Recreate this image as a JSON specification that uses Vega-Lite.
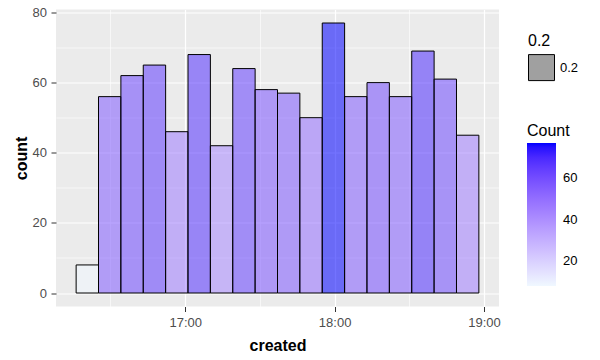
{
  "$schema": "https://vega.github.io/schema/vega-lite/v6.json",
  "width": 443,
  "height": 297,
  "autosize": {"type": "none"},
  "padding": {"left": 56, "top": 9.5, "right": 101, "bottom": 53.5},
  "background": "white",
  "config": {
    "font": "Liberation Sans",
    "view": {"fill": "#EBEBEB", "stroke": null},
    "axis": {
      "domain": false,
      "gridColor": "white",
      "tickColor": "#333333",
      "tickSize": 5,
      "tickWidth": 1,
      "labelFontSize": 13,
      "labelColor": "#4D4D4D",
      "labelPadding": 4.5,
      "titleFontSize": 16,
      "titleFontWeight": "bold",
      "titleColor": "black"
    },
    "legend": {
      "titleFontSize": 16,
      "titleFontWeight": "normal",
      "titleColor": "black",
      "labelFontSize": 13,
      "labelColor": "black",
      "padding": 0
    }
  },
  "data": {
    "values": [
      {"start": "2015-01-01T16:16:13Z", "end": "2015-01-01T16:25:12Z", "count": 8, "alpha": "0.2"},
      {"start": "2015-01-01T16:25:12Z", "end": "2015-01-01T16:34:11Z", "count": 56, "alpha": "0.2"},
      {"start": "2015-01-01T16:34:11Z", "end": "2015-01-01T16:43:10Z", "count": 62, "alpha": "0.2"},
      {"start": "2015-01-01T16:43:10Z", "end": "2015-01-01T16:52:09Z", "count": 65, "alpha": "0.2"},
      {"start": "2015-01-01T16:52:09Z", "end": "2015-01-01T17:01:08Z", "count": 46, "alpha": "0.2"},
      {"start": "2015-01-01T17:01:08Z", "end": "2015-01-01T17:10:07Z", "count": 68, "alpha": "0.2"},
      {"start": "2015-01-01T17:10:07Z", "end": "2015-01-01T17:19:06Z", "count": 42, "alpha": "0.2"},
      {"start": "2015-01-01T17:19:06Z", "end": "2015-01-01T17:28:05Z", "count": 64, "alpha": "0.2"},
      {"start": "2015-01-01T17:28:05Z", "end": "2015-01-01T17:37:04Z", "count": 58, "alpha": "0.2"},
      {"start": "2015-01-01T17:37:04Z", "end": "2015-01-01T17:46:03Z", "count": 57, "alpha": "0.2"},
      {"start": "2015-01-01T17:46:03Z", "end": "2015-01-01T17:55:02Z", "count": 50, "alpha": "0.2"},
      {"start": "2015-01-01T17:55:02Z", "end": "2015-01-01T18:04:01Z", "count": 77, "alpha": "0.2"},
      {"start": "2015-01-01T18:04:01Z", "end": "2015-01-01T18:13:00Z", "count": 56, "alpha": "0.2"},
      {"start": "2015-01-01T18:13:00Z", "end": "2015-01-01T18:21:59Z", "count": 60, "alpha": "0.2"},
      {"start": "2015-01-01T18:21:59Z", "end": "2015-01-01T18:30:58Z", "count": 56, "alpha": "0.2"},
      {"start": "2015-01-01T18:30:58Z", "end": "2015-01-01T18:39:57Z", "count": 69, "alpha": "0.2"},
      {"start": "2015-01-01T18:39:57Z", "end": "2015-01-01T18:48:56Z", "count": 61, "alpha": "0.2"},
      {"start": "2015-01-01T18:48:56Z", "end": "2015-01-01T18:57:55Z", "count": 45, "alpha": "0.2"}
    ]
  },
  "mark": {"type": "bar", "fillOpacity": 0.55, "stroke": "black", "strokeWidth": 1, "strokeOpacity": 1},
  "encoding": {
    "x": {
      "field": "start",
      "type": "temporal",
      "title": "created",
      "scale": {
        "type": "utc",
        "domain": [
          {"year": 2015, "month": 1, "date": 1, "hours": 16, "minutes": 8, "seconds": 8, "utc": true},
          {"year": 2015, "month": 1, "date": 1, "hours": 19, "minutes": 6, "seconds": 0, "utc": true}
        ],
        "nice": false
      },
      "axis": {
        "values": [
          {"year": 2015, "month": 1, "date": 1, "hours": 16, "minutes": 30, "utc": true},
          {"year": 2015, "month": 1, "date": 1, "hours": 17, "minutes": 0, "utc": true},
          {"year": 2015, "month": 1, "date": 1, "hours": 17, "minutes": 30, "utc": true},
          {"year": 2015, "month": 1, "date": 1, "hours": 18, "minutes": 0, "utc": true},
          {"year": 2015, "month": 1, "date": 1, "hours": 18, "minutes": 30, "utc": true},
          {"year": 2015, "month": 1, "date": 1, "hours": 19, "minutes": 0, "utc": true}
        ],
        "labelExpr": "utcminutes(datum.value) == 30 ? '' : utcFormat(datum.value, '%H:%M')",
        "tickOpacity": {"condition": {"test": "utcminutes(datum.value) == 30", "value": 0}, "value": 1},
        "gridWidth": {"condition": {"test": "utcminutes(datum.value) == 30", "value": 0.6}, "value": 1.2},
        "titlePadding": 8,
        "labelFlush": false,
        "labelOverlap": false
      }
    },
    "x2": {"field": "end"},
    "y": {
      "field": "count",
      "type": "quantitative",
      "title": "count",
      "scale": {"domain": [-3.85, 80.85], "nice": false, "zero": false},
      "axis": {
        "values": [0, 10, 20, 30, 40, 50, 60, 70, 80],
        "labelExpr": "datum.value % 20 == 0 ? datum.label : ''",
        "tickOpacity": {"condition": {"test": "datum.value % 20 != 0", "value": 0}, "value": 1},
        "gridWidth": {"condition": {"test": "datum.value % 20 != 0", "value": 0.6}, "value": 1.2},
        "titlePadding": 3,
        "labelOverlap": false
      }
    },
    "y2": {"datum": 0},
    "color": {
      "field": "count",
      "type": "quantitative",
      "title": "Count",
      "scale": {"range": ["aliceblue", "blue"], "interpolate": "lab", "nice": false, "zero": false},
      "legend": {
        "orient": "none",
        "legendX": 471,
        "legendY": 113,
        "direction": "vertical",
        "gradientLength": 143,
        "gradientThickness": 29,
        "gradientStrokeWidth": 0,
        "gradientOpacity": 1,
        "values": [20, 40, 60],
        "labelOffset": 7,
        "titlePadding": 4.5
      }
    },
    "opacity": {
      "field": "alpha",
      "type": "ordinal",
      "title": "0.2",
      "scale": {"range": [1, 1]},
      "legend": {
        "orient": "none",
        "legendX": 472,
        "legendY": 23.6,
        "symbolType": "square",
        "symbolSize": 676,
        "symbolFillColor": "#A0A0A0",
        "symbolStrokeColor": "black",
        "symbolStrokeWidth": 1,
        "labelOffset": 5,
        "titlePadding": 5
      }
    }
  }
}
